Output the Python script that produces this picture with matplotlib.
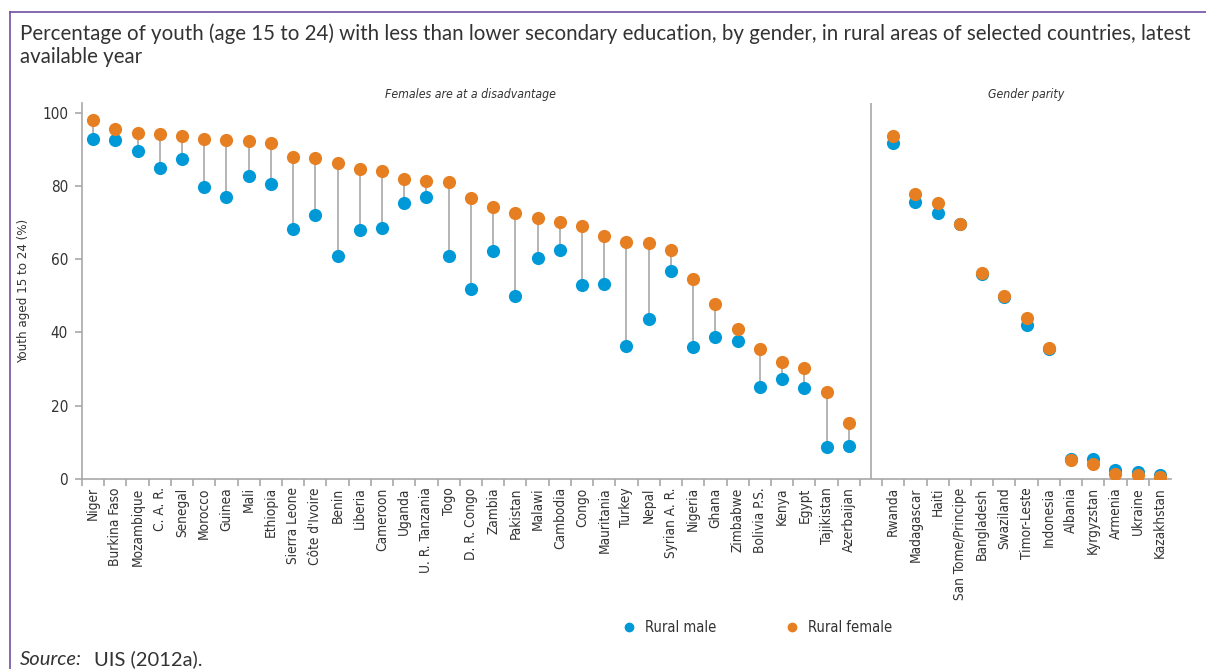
import numpy as np
import matplotlib.pyplot as plt
from matplotlib.lines import Line2D
from matplotlib import font_manager

# countries where females are at a disadvantage
disadv_countries = ['Niger', 'Burkina Faso', 'Mozambique', 'C. A. R.', 'Senegal', 'Morocco',
                    'Guinea', 'Mali', 'Ethiopia', 'Sierra Leone', "Côte d'Ivoire", 'Benin',
                    'Liberia', 'Cameroon', 'Uganda', 'U. R. Tanzania', 'Togo', 'D. R. Congo',
                    'Zambia', 'Pakistan', 'Malawi', 'Cambodia', 'Congo', 'Mauritania', 'Turkey',
                    'Nepal', 'Syrian A. R.', 'Nigeria', 'Ghana', 'Zimbabwe', 'Bolivia P.S.',
                    'Kenya', 'Egypt', 'Tajikistan', 'Azerbaijan']
disadv_female = [97.9, 95.6, 94.4, 94.2, 93.7, 92.8, 92.4, 92.3, 91.8, 87.9, 87.7, 86.3,
                 84.5, 84.1, 81.9, 81.2, 81.0, 76.6, 74.1, 72.5, 71.1, 70.2, 69.1, 66.3, 64.8,
                 64.3, 62.5, 54.6, 47.7, 40.9, 35.4, 31.8, 30.3, 23.7, 15.2]
disadv_male = [92.7, 92.6, 89.6, 84.8, 87.3, 79.6, 76.9, 82.6, 80.5, 68.3, 72.1, 60.9,
               68.0, 68.4, 75.4, 77.0, 60.9, 51.8, 62.3, 50.0, 60.2, 62.5, 53.0, 53.3, 36.3,
               43.6, 56.8, 36.0, 38.8, 37.7, 25.1, 27.2, 24.8, 8.7, 9.0]

# countries at gender parity
parity_countries = ['Rwanda', 'Madagascar', 'Haiti', 'San Tome/Principe', 'Bangladesh',
                    'Swaziland', 'Timor-Leste', 'Indonesia', 'Albania', 'Kyrgyzstan',
                    'Armenia', 'Ukraine', 'Kazakhstan']
parity_female = [93.6, 77.9, 75.3, 69.7, 56.2, 50.0, 43.8, 35.8, 5.2, 4.0, 1.5, 1.1, 0.5]
parity_male = [91.6, 75.7, 72.5, 69.5, 55.9, 49.7, 42.0, 35.6, 5.5, 5.4, 2.5, 2.0, 1.1]

yticks = [0, 20, 40, 60, 80, 100]

BLUE = '#0099d8'
ORANGE = '#e67e22'
GREY = '#a8a8a8'
TXT = '#333333'
# condensed face for the axis texts
NARROW = font_manager.FontProperties(family='DejaVu Sans', stretch='condensed', size=10)


def narrow(size, style='normal'):
    fp = NARROW.copy()
    fp.set_size(size)
    fp.set_style(style)
    return fp


def main():
    n1 = len(disadv_countries)
    x1 = np.arange(n1)
    x2 = np.arange(len(parity_countries)) + n1 + 1  # one empty slot for the divider
    labels = disadv_countries + [''] + parity_countries

    fig = plt.figure(figsize=(12.06, 6.69), dpi=100)
    W, H = 1206, 669
    ax = fig.add_axes([82 / W, (H - 479) / H, (1171 - 82) / W, (479 - 103) / H])

    # connectors between male and female values
    ax.vlines(x1, disadv_male, disadv_female, color=GREY, lw=1.2, zorder=1)
    ax.scatter(x1, disadv_male, s=90, color=BLUE, zorder=2, linewidths=0)
    ax.scatter(x1, disadv_female, s=90, color=ORANGE, zorder=3, linewidths=0)
    ax.scatter(x2, parity_male, s=90, color=BLUE, zorder=2, linewidths=0)
    ax.scatter(x2, parity_female, s=90, color=ORANGE, zorder=3, linewidths=0)

    ax.axvline(n1, color=GREY, lw=1.2, zorder=0)

    ax.set_xlim(-0.5, len(labels) - 0.5)
    ax.set_ylim(0, 102.6)
    ax.set_yticks(yticks)
    ax.set_xticks(np.arange(len(labels)))
    ax.set_xticklabels(labels, rotation=90, color=TXT, fontproperties=narrow(9.8))
    ax.set_xticks(np.arange(-0.5, len(labels) - 1), minor=True)
    ax.tick_params(axis='x', which='major', length=0, pad=6)
    ax.tick_params(axis='x', which='minor', length=5, color=GREY, width=1.2)
    ax.tick_params(axis='y', length=5, color=GREY, width=1.2, labelcolor=TXT, pad=5)
    for t in ax.get_yticklabels():
        t.set_fontproperties(narrow(11))
    ax.set_ylabel('Youth aged 15 to 24 (%)', color=TXT, labelpad=9, fontproperties=narrow(9.5))

    for side in ['top', 'right']:
        ax.spines[side].set_visible(False)
    for side in ['left', 'bottom']:
        ax.spines[side].set_color(GREY)
        ax.spines[side].set_linewidth(1.2)

    ax.text((n1 - 1) / 2, 1.005, 'Females are at a disadvantage', transform=ax.get_xaxis_transform(),
            ha='center', va='bottom', color=TXT, fontproperties=narrow(8.8, 'italic'))
    ax.text((x2[0] + x2[-1]) / 2, 1.005, 'Gender parity', transform=ax.get_xaxis_transform(),
            ha='center', va='bottom', color=TXT, fontproperties=narrow(8.8, 'italic'))

    # frame lines
    fig.add_artist(Line2D([10 / W, 1], [1 - 12 / H] * 2, color='#6f4fa0', lw=1.2))
    fig.add_artist(Line2D([10 / W] * 2, [0, 1 - 12 / H], color='#6f4fa0', lw=1.2))

    fig.text(20 / W, 1 - 23 / H,
             'Percentage of youth (age 15 to 24) with less than lower secondary education, by gender, '
             'in rural areas of selected countries, latest\navailable year',
             ha='left', va='top', fontsize=14.8, family='Lato', color=TXT, linespacing=1.2)

    handles = [Line2D([], [], marker='o', ls='', color=BLUE, ms=6, label='Rural male'),
               Line2D([], [], marker='o', ls='', color=ORANGE, ms=6, label='Rural female')]
    leg = fig.legend(handles=handles, ncol=2, loc='center', bbox_to_anchor=(756 / W, 1 - 628 / H),
                     frameon=False, columnspacing=4.6, handletextpad=0.5, handlelength=1.2,
                     prop=narrow(10.5))
    for t in leg.get_texts():
        t.set_color(TXT)

    fig.text(20 / W, 1 - 665 / H, 'Source:', style='italic', fontsize=14.5, family='Lato',
             color=TXT, ha='left', va='baseline')
    fig.text(94 / W, 1 - 665 / H, 'UIS (2012a).', fontsize=14.5, family='Lato',
             color=TXT, ha='left', va='baseline')

    fig.savefig('out.png', dpi=100)


if __name__ == '__main__':
    main()
